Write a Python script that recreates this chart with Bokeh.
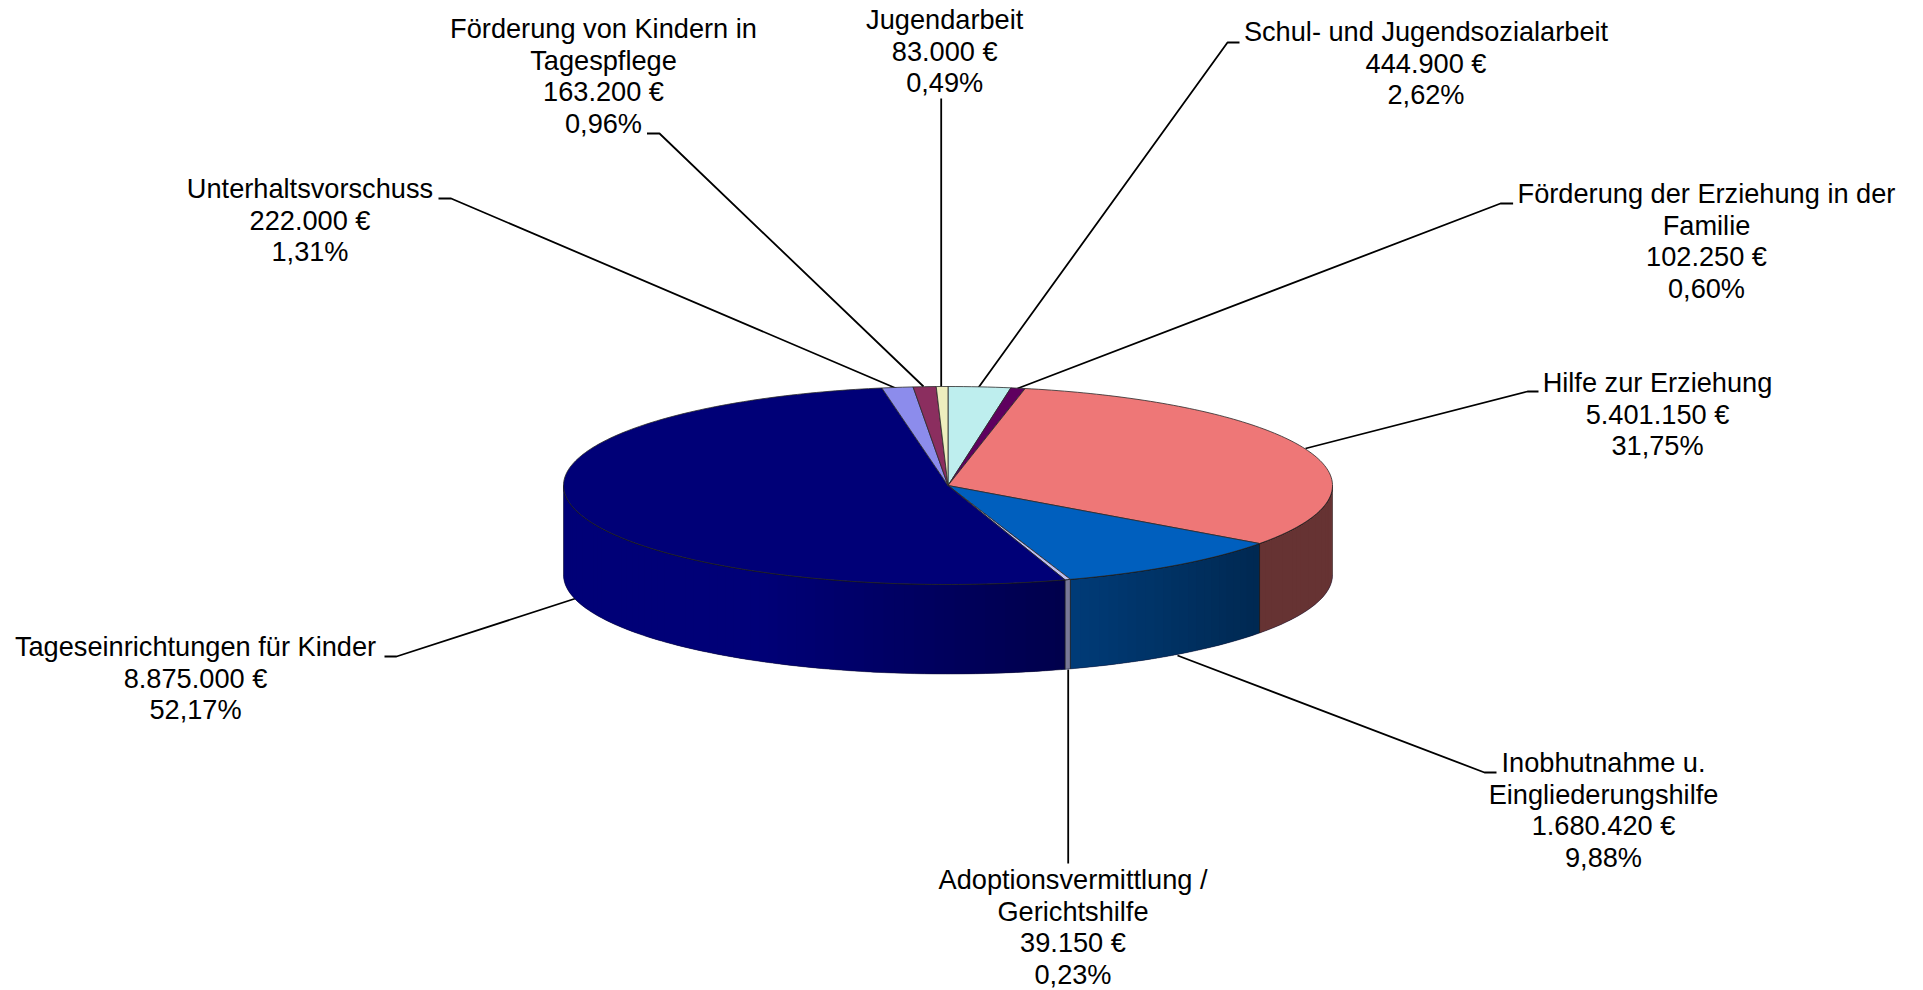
import numpy as np
from bokeh.plotting import figure
from bokeh.embed import file_html
from bokeh.resources import INLINE
from bokeh.core.properties import value
from bokeh.models import Range1d

# ---- data (clockwise from 12 o'clock)
names = [
    ["Schul- und Jugendsozialarbeit"],
    ["Förderung der Erziehung in der", "Familie"],
    ["Hilfe zur Erziehung"],
    ["Inobhutnahme u.", "Eingliederungshilfe"],
    ["Adoptionsvermittlung /", "Gerichtshilfe"],
    ["Tageseinrichtungen für Kinder"],
    ["Unterhaltsvorschuss"],
    ["Förderung von Kindern in", "Tagespflege"],
    ["Jugendarbeit"],
]
amounts = [444900, 102250, 5401150, 1680420, 39150, 8875000, 222000, 163200, 83000]
colors = ["#BEEEEE", "#5F005F", "#EE7777", "#005FBE", "#BEBEEE", "#000077", "#8C8CEC", "#8B2E5F", "#EEEEBE"]
base_rgb = [(204, 255, 255), (102, 0, 102), (255, 128, 128), (0, 102, 204), (204, 204, 255),
            (0, 0, 128), (153, 153, 255), (153, 51, 102), (255, 255, 204)]

# ---- layout (pixels of the page)
CX, CY, RX, RY, DEPTH = 947.5, 485.0, 384.5, 99.0, 89.5
label_cx = [1425.5, 1706, 1657, 1603, 1072.5, 195, 309.5, 603, 944.2]
label_y0 = [41, 203, 392, 772, 889, 656, 198, 38, 29]
LINE_H = 31.7
TEXT_DY = -10
FONT_PX = "27.2px"
leaders = [
    ([1239, 1227, 978], [42, 42, 387]),
    ([1512.6, 1500, 1017], [203, 203, 388]),
    ([1538, 1527, 1305], [391, 391, 448]),
    ([1496, 1484, 1177], [772, 772, 655]),
    ([1067.7, 1067.7], [863, 669]),
    ([384, 396, 575], [656, 656, 598]),
    ([438, 450.6, 896], [198, 198, 388]),
    ([646.5, 659, 923], [133, 133, 386]),
    ([940.7, 940.7], [98, 386]),
]
shade_x = [563, 760, 1060, 1260, 1332]
shade_f = [0.93, 0.93, 0.60, 0.40, 0.40]

p = figure(width=1923, height=990, output_backend="svg", toolbar_location=None,
           x_range=Range1d(0, 1923), y_range=Range1d(990, 0), min_border=0,
           outline_line_color=None, background_fill_color="white",
           styles={"position": "absolute", "left": "0px", "top": "0px"})
p.axis.visible = False
p.grid.visible = False

total = sum(amounts)
edges = np.concatenate([[0], np.cumsum(amounts)]) / total * 2 * np.pi


def px(t):
    return CX + RX * np.sin(t)


def py(t):
    return CY - RY * np.cos(t)


# leaders behind the pie
for lx, ly in leaders:
    p.line(lx, ly, line_color="black", line_width=1.8)

# side wall, strip by strip; each strip runs under the next so no seams show
STEP = np.radians(1.5)
sx, sy, sc = [], [], []
for i, (a, b) in enumerate(zip(edges[:-1], edges[1:])):
    lo, hi = max(a, np.pi / 2), min(b, 3 * np.pi / 2)
    if hi <= lo:
        continue
    n = max(1, int((hi - lo) / STEP))
    ts = np.linspace(lo, hi, n + 1)
    for t0, t1 in zip(ts[:-1], ts[1:]):
        f = np.interp(px((t0 + t1) / 2), shade_x, shade_f)
        r, g, bl = [int(c * f) for c in base_rgb[i]]
        t2 = min(t1 + STEP, 3 * np.pi / 2)
        sx.append([px(t0), px(t1), px(t2), px(t2), px(t1), px(t0)])
        sy.append([py(t0), py(t1), py(t2), py(t2) + DEPTH, py(t1) + DEPTH, py(t0) + DEPTH])
        sc.append(f"#{r:02x}{g:02x}{bl:02x}")
p.patches(sx, sy, fill_color=sc, line_color=None)

# wall edges
wall = np.linspace(np.pi / 2, 3 * np.pi / 2, 240)
p.line(px(wall), py(wall) + DEPTH, line_color="#111133", line_width=0.8, line_alpha=0.6)
p.line(px(wall), py(wall), line_color="#000000", line_width=1.0)
for e in edges:
    if np.pi / 2 < e < 3 * np.pi / 2:
        p.line([px(e), px(e)], [py(e), py(e) + DEPTH], line_color="#1a1a1a", line_width=0.8)
for e in (np.pi / 2, 3 * np.pi / 2):
    p.line([px(e), px(e)], [py(e), py(e) + DEPTH], line_color="#222222", line_width=0.7, line_alpha=0.6)

# top face
tx, ty = [], []
for a, b in zip(edges[:-1], edges[1:]):
    ts = np.linspace(a, b, max(3, int((b - a) / np.radians(1.0))))
    tx.append(np.concatenate([[CX], px(ts)]))
    ty.append(np.concatenate([[CY], py(ts)]))
p.patches(tx, ty, fill_color=colors, line_color="#2a2a2a", line_width=0.8)

# labels
lab_x, lab_y, lab_t = [], [], []
for nm, amt, cx, y0 in zip(names, amounts, label_cx, label_y0):
    eur = f"{amt:,}".replace(",", ".") + " €"
    pct = f"{100 * amt / total:.2f}".replace(".", ",") + "%"
    for k, s in enumerate(nm + [eur, pct]):
        lab_x.append(cx)
        lab_y.append(y0 + k * LINE_H + TEXT_DY)
        lab_t.append(s)
p.text(lab_x, lab_y, text=lab_t, text_font=value("Liberation Sans"), text_font_size=value(FONT_PX),
       text_align="center", text_baseline="alphabetic", text_color="black")

open("out.html", "w").write(file_html(p, INLINE))
